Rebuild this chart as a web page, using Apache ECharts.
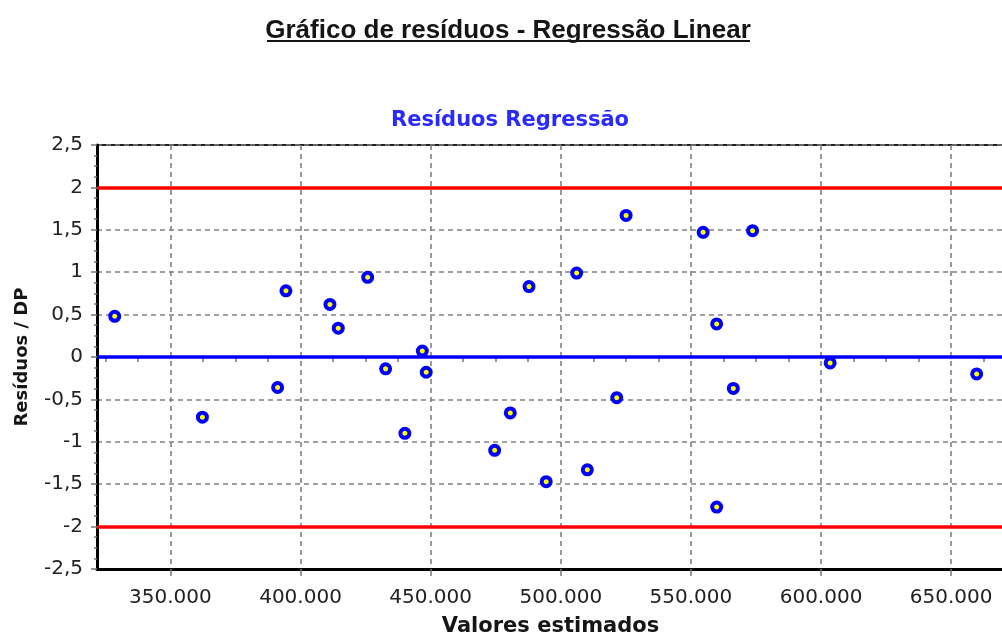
<!DOCTYPE html>
<html>
<head>
<meta charset="utf-8">
<script src="https://cdn.jsdelivr.net/npm/echarts@6/dist/echarts.min.js"></script>
<style>
html,body{margin:0;padding:0;background:#fff;}
#chart{width:1002px;height:634px;}
</style>
</head>
<body>
<div id="chart"></div>
<script>
// ---- data ----
var titleText = 'Gráfico de resíduos - Regressão Linear';
var subtitleText = 'Resíduos Regressão';
var xAxisName = 'Valores estimados';
var yAxisName = 'Resíduos / DP';
var estimatedValues = [328600, 362300, 391200, 394400, 411300, 414500, 425800, 432700, 440100, 446800,
  448300, 474600, 480600, 487800, 494400, 506100, 510200, 521500, 525100, 554700,
  573700, 559900, 566300, 559900, 603500, 659800];
var residuals = [0.48, -0.71, -0.36, 0.78, 0.62, 0.34, 0.94, -0.14, -0.90, 0.07,
  -0.18, -1.10, -0.66, 0.83, -1.47, 0.99, -1.33, -0.48, 1.67, 1.47,
  1.49, 0.39, -0.37, -1.77, -0.07, -0.20];
var xTickValues = [350000, 400000, 450000, 500000, 550000, 600000, 650000];
var xMinorTickValues = [325000, 337500, 362500, 375000, 387500, 412500, 425000, 437500, 462500, 475000,
  487500, 512500, 525000, 537500, 562500, 575000, 587500, 612500, 625000, 637500, 662500];
var xMin = 321800, xMax = 670300;
var yMin = -2.5, yMax = 2.5, yStep = 0.5;
var limitLines = [2, -2];
var zeroLine = 0;

var points = estimatedValues.map(function (v, i) { return [v, residuals[i]]; });

function fmtThousands(v) {
  return Math.round(v).toString().replace(/\B(?=(\d{3})+(?!\d))/g, '.');
}
function fmtDecimal(v) {
  return String(v).replace('.', ',');
}

var chart = echarts.init(document.getElementById('chart'), null, {renderer: 'canvas'});
var gridLine = {show: true, lineStyle: {color: '#808080', width: 1.6, type: [5, 4]}};

chart.setOption({
  animation: false,
  backgroundColor: '#fff',
  title: [{
    text: titleText,
    left: 503, top: 13, textAlign: 'center',
    textStyle: {fontFamily: 'Liberation Sans', fontWeight: 'bold', fontSize: 26, color: '#151515'}
  }, {
    text: subtitleText,
    left: 505, top: 105, textAlign: 'center',
    textStyle: {fontFamily: 'DejaVu Sans', fontWeight: 'bold', fontSize: 21, color: '#2a2aff'}
  }],
  graphic: [{
    type: 'line', silent: true,
    shape: {x1: 267, y1: 41, x2: 750, y2: 41},
    style: {stroke: '#151515', lineWidth: 2}
  }],
  grid: {
    left: 97, right: -2, top: 145, bottom: 65,
    outerBoundsMode: 'none', containLabel: false,
    show: true, borderColor: '#222', borderWidth: 2, backgroundColor: 'transparent'
  },
  xAxis: [{
    type: 'value', min: xMin, max: xMax,
    name: xAxisName, nameLocation: 'middle', nameGap: 47,
    nameTextStyle: {fontFamily: 'DejaVu Sans', fontWeight: 'bold', fontSize: 21, color: '#151515'},
    axisLine: {show: true, onZero: false, lineStyle: {color: '#000', width: 3}},
    axisTick: {show: true, length: 7, customValues: xTickValues, lineStyle: {color: '#777', width: 1.5}},
    axisLabel: {customValues: xTickValues, margin: 19, formatter: fmtThousands,
      fontFamily: 'DejaVu Sans', fontSize: 20, color: '#222'},
    splitLine: gridLine
  }, {
    type: 'value', min: xMin, max: xMax, position: 'bottom', gridIndex: 0,
    axisLine: {show: false},
    axisTick: {show: true, length: 5, customValues: xMinorTickValues, lineStyle: {color: '#777', width: 1.5}},
    axisLabel: {show: false},
    splitLine: {show: false}
  }],
  yAxis: {
    type: 'value', min: yMin, max: yMax, interval: yStep,
    name: yAxisName, nameLocation: 'middle', nameGap: 66, nameRotate: 90,
    nameTextStyle: {fontFamily: 'DejaVu Sans', fontWeight: 'bold', fontSize: 18, color: '#151515'},
    axisLine: {show: true, onZero: false, lineStyle: {color: '#000', width: 3}},
    axisTick: {show: true, length: 6, lineStyle: {color: '#777', width: 1.5}},
    minorTick: {show: true, splitNumber: 4, length: 3, lineStyle: {color: '#777', width: 1.5}},
    axisLabel: {margin: 14, formatter: fmtDecimal, fontFamily: 'DejaVu Sans', fontSize: 20, color: '#222'},
    splitLine: gridLine
  },
  series: [{
    type: 'scatter',
    xAxisIndex: 0,
    z: 5,
    data: points,
    symbol: 'circle',
    symbolSize: 9,
    itemStyle: {color: '#ffff00', borderColor: '#0000ff', borderWidth: 4, opacity: 1},
    markLine: {
      silent: true, z: 3, symbol: ['none', 'none'], label: {show: false},
      data: limitLines.map(function (v) {
        return {yAxis: v, lineStyle: {color: '#ff0000', width: 3.5, type: 'solid'}};
      }).concat([{yAxis: zeroLine, lineStyle: {color: '#0000ff', width: 3.5, type: 'solid'}}])
    }
  }]
});
</script>
</body>
</html>
